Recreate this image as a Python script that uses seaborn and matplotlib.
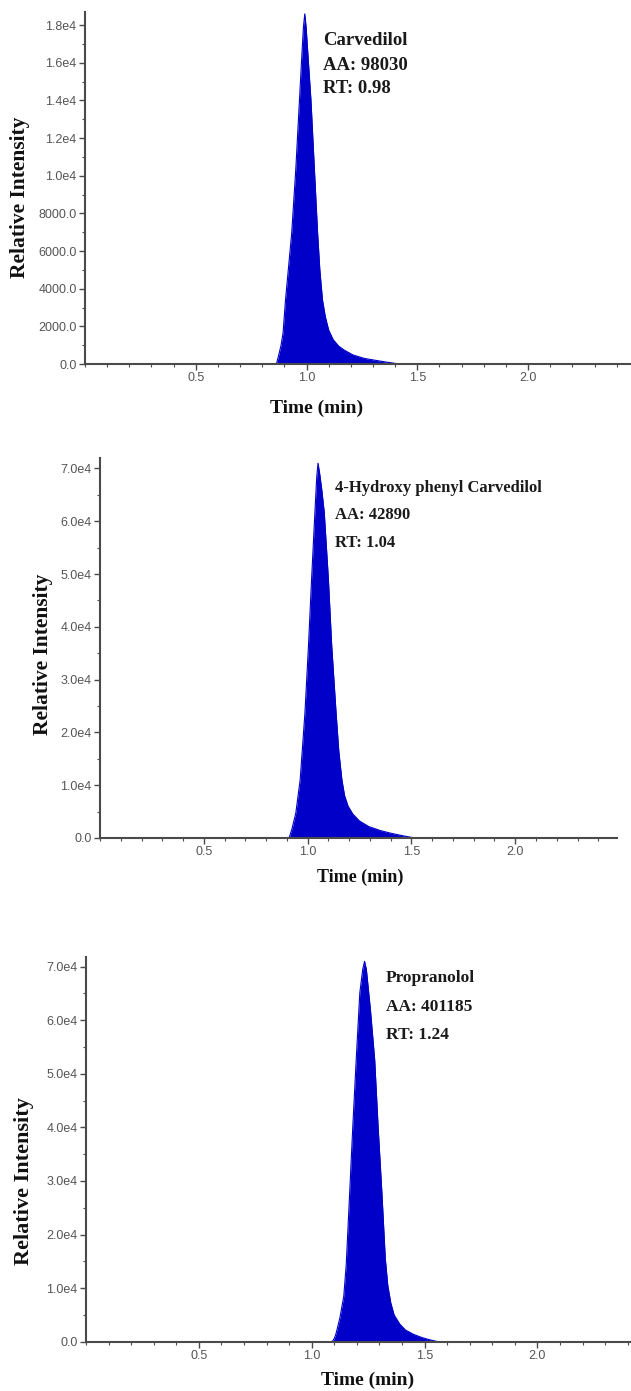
import numpy as np
import pandas as pd
import matplotlib
matplotlib.use("Agg")
import matplotlib.pyplot as plt
from matplotlib.ticker import FixedLocator, MultipleLocator
import seaborn as sns

# ---------------- data ----------------
carv_time = [0.00, 0.85, 0.864, 0.875, 0.885, 0.894, 0.905, 0.933, 0.952, 0.968, 0.980,
             0.986, 0.992, 0.998, 1.005, 1.020, 1.035, 1.050, 1.060, 1.072, 1.085,
             1.100, 1.12, 1.145, 1.17, 1.21, 1.26, 1.35, 1.42, 2.46]
carv_int = [0, 0, 0, 500, 1000, 1650, 3400, 6950, 10450, 14000, 16650,
            17900, 18600, 17900, 16650, 14000, 10450, 6950, 5000, 3400, 2500,
            1800, 1300, 950, 740, 480, 300, 120, 0, 0]

hyd_time = [0.00, 0.90, 0.911, 0.925, 0.943, 0.964, 0.987, 1.004, 1.019, 1.035, 1.044,
            1.050, 1.058, 1.068, 1.080, 1.100, 1.116, 1.137, 1.150, 1.165, 1.178,
            1.195, 1.218, 1.25, 1.295, 1.35, 1.40, 1.46, 1.515, 2.49]
hyd_int = [0, 0, 0, 1800, 4700, 11000, 23700, 36400, 49000, 61700, 68500,
           71000, 69000, 66000, 61700, 49000, 36400, 23700, 16500, 11000, 8000,
           6000, 4500, 3200, 2150, 1400, 900, 400, 0, 0]

prop_time = [0.00, 1.09, 1.100, 1.108, 1.125, 1.142, 1.153, 1.168, 1.182, 1.197, 1.213,
             1.226, 1.234, 1.242, 1.260, 1.279, 1.294, 1.311, 1.326, 1.337, 1.350,
             1.365, 1.39, 1.415, 1.45, 1.487, 1.52, 1.56, 2.41]
prop_int = [0, 0, 600, 1560, 4500, 8500, 14500, 27700, 40200, 52600, 65100,
            69500, 71000, 69500, 62000, 52600, 40200, 27700, 15500, 10500, 7300,
            5000, 3300, 2200, 1400, 800, 400, 0, 0]

compounds = ["Carvedilol", "4-Hydroxy phenyl Carvedilol", "Propranolol"]
areas = ["AA: 98030", "AA: 42890", "AA: 401185"]
rts = ["RT: 0.98", "RT: 1.04", "RT: 1.24"]

x_ticks = [0.5, 1.0, 1.5, 2.0]
x_tick_labels = ["0.5", "1.0", "1.5", "2.0"]

y1_ticks = [0, 2000, 4000, 6000, 8000, 10000, 12000, 14000, 16000, 18000]
y1_tick_labels = ["0.0", "2000.0", "4000.0", "6000.0", "8000.0",
                  "1.0e4", "1.2e4", "1.4e4", "1.6e4", "1.8e4"]
y2_ticks = [0, 10000, 20000, 30000, 40000, 50000, 60000, 70000]
y2_tick_labels = ["0.0", "1.0e4", "2.0e4", "3.0e4", "4.0e4", "5.0e4", "6.0e4", "7.0e4"]

x_label = "Time (min)"
y_label = "Relative Intensity"

# ---------------- style ----------------
sns.set_theme(style="ticks")
plt.rcParams["font.family"] = ["Liberation Sans", "DejaVu Sans"]

FILL = "#0000C8"
AXC = "#4a4a4a"
serif = ["Liberation Serif", "DejaVu Serif"]

fig = plt.figure(figsize=(6.31, 13.91), dpi=100)
fig.patch.set_facecolor("white")

panels = [
    dict(pos=[0.1347, 0.7383, 0.8637, 0.2531], t=carv_time, y=carv_int,
         xlim=(0, 2.46), ylim=(0, 18700), yt=y1_ticks, ytl=y1_tick_labels, yminor=1000,
         ylab=(-0.119, 0.474), xlab=(0.424, -0.125), xls=14, yls=15.5, tfs=13.5,
         txt_x=0.437, txt_y=[0.920, 0.849, 0.784]),
    dict(pos=[0.1585, 0.3976, 0.8193, 0.2732], t=hyd_time, y=hyd_int,
         xlim=(0, 2.49), ylim=(0, 72000), yt=y2_ticks, ytl=y2_tick_labels, yminor=5000,
         ylab=(-0.110, 0.482), xlab=(0.503, -0.105), xls=13, yls=15.5, tfs=12,
         txt_x=0.4545, txt_y=[0.921, 0.849, 0.776]),
    dict(pos=[0.1363, 0.0354, 0.8621, 0.2766], t=prop_time, y=prop_int,
         xlim=(0, 2.41), ylim=(0, 71800), yt=y2_ticks, ytl=y2_tick_labels, yminor=5000,
         ylab=(-0.114, 0.418), xlab=(0.517, -0.0996), xls=14, yls=16, tfs=12.5,
         txt_x=0.551, txt_y=[0.945, 0.870, 0.797]),
]

for i, p in enumerate(panels):
    ax = fig.add_axes(p["pos"])
    df = pd.DataFrame({"time": p["t"], "intensity": p["y"]})
    ax.fill_between(df["time"], 0, df["intensity"], color=FILL, linewidth=0)
    sns.lineplot(data=df, x="time", y="intensity", ax=ax, color=FILL,
                 linewidth=0.8, estimator=None, sort=False)
    ax.set_xlim(*p["xlim"])
    ax.set_ylim(*p["ylim"])
    ax.set_facecolor("white")
    sns.despine(ax=ax)
    for s in ["left", "bottom"]:
        ax.spines[s].set_color(AXC)
        ax.spines[s].set_linewidth(1.5)

    ax.xaxis.set_major_locator(FixedLocator(x_ticks))
    ax.set_xticklabels(x_tick_labels)
    ax.xaxis.set_minor_locator(MultipleLocator(0.1))
    ax.yaxis.set_major_locator(FixedLocator(p["yt"]))
    ax.set_yticklabels(p["ytl"])
    ax.yaxis.set_minor_locator(MultipleLocator(p["yminor"]))
    ax.tick_params(which="major", direction="out", length=4, width=1.0,
                   color=AXC, labelcolor="#555555", labelsize=9, pad=2)
    ax.tick_params(which="minor", direction="out", length=2.5, width=0.8, color=AXC)

    ax.set_xlabel(x_label, fontfamily=serif, fontweight="bold", fontsize=p["xls"], color="#111111")
    ax.set_ylabel(y_label, fontfamily=serif, fontweight="bold", fontsize=p["yls"], color="#111111")
    ax.xaxis.set_label_coords(*p["xlab"])
    ax.xaxis.label.set_va("center")
    ax.yaxis.set_label_coords(*p["ylab"])
    ax.yaxis.label.set_va("center")

    for line_txt, yy in zip([compounds[i], areas[i], rts[i]], p["txt_y"]):
        ax.text(p["txt_x"], yy, line_txt, transform=ax.transAxes, ha="left", va="center",
                fontfamily=serif, fontweight="bold", fontsize=p["tfs"], color="#1a1a1a")

fig.savefig("out.png", dpi=100, facecolor="white")
